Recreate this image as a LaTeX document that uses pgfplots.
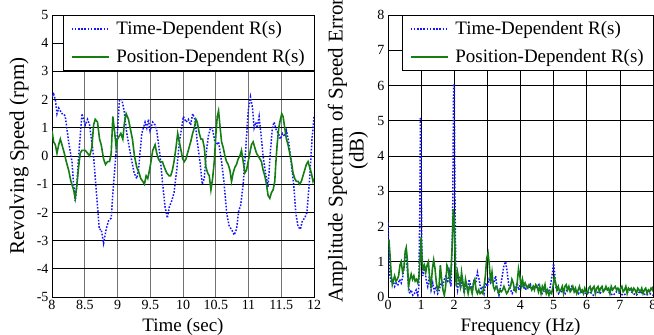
\documentclass[border=0pt]{standalone}
\usepackage{fontspec}
\setmainfont{Liberation Serif}
\usepackage{pgfplots}
\pgfplotsset{compat=1.18}
\definecolor{tdblue}{RGB}{20,20,255}
\definecolor{pdgreen}{RGB}{20,125,20}
\pgfplotsset{
  myax/.style={
    scale only axis, height=282pt,
    grid=major,
    major grid style={black, line width=0.7pt},
    axis line style={black, line width=0.8pt},
    tick style={draw=none},
    tick label style={font=\fontsize{14}{16}\selectfont},
    /pgf/number format/assume math mode=true,
    xlabel style={font=\fontsize{19}{22}\selectfont, at={(axis description cs:0.5,0)}, anchor=base, yshift=-34pt},
    legend cell align=left,
    legend style={at={(rel axis cs:1,1)}, anchor=north east, fill=white, draw=black,
      font=\fontsize{19}{22}\selectfont, row sep=11pt, column sep=6pt, inner xsep=8pt, inner ysep=5.5pt,
      nodes={inner xsep=1pt, inner ysep=1pt}},
    legend image code/.code={\draw (0pt,0pt) -- (37pt,0pt);},
  },
  tdstyle/.style={tdblue, line width=1.5pt, dash pattern=on 1.6pt off 1.6pt},
  pdstyle/.style={pdgreen, line width=1.6pt},
}
\begin{document}
\begin{tikzpicture}
\begin{axis}[myax, width=262pt,
  xmin=8, xmax=12, ymin=-5, ymax=5,
  xtick={8,8.5,...,12}, ytick={-5,-4,...,5},
  xticklabels={8,8.5,9,9.5,10,10.5,11,11.5,12},
  xlabel={Time (sec)},
  ylabel={Revolving Speed (rpm)},
  ylabel style={font=\fontsize{21}{24}\selectfont, at={(axis description cs:-0.126,0.5)}, anchor=center},
  x grid style={black!55, line width=0.8pt},
]
\addplot[tdstyle] table {
8.000 2.1
8.025 2.2
8.051 2.0
8.076 1.5
8.102 1.7
8.152 1.5
8.178 1.5
8.203 1.4
8.254 0.5
8.305 -0.2
8.330 -1.0
8.355 -1.6
8.381 -1.0
8.406 0.0
8.457 1.5
8.508 1.1
8.543 1.3
8.574 1.1
8.635 0.0
8.685 -1.5
8.721 -2.6
8.751 -2.6
8.787 -3.1
8.827 -2.6
8.863 -2.3
8.904 -2.2
8.939 -1.0
8.990 0.5
9.030 2.0
9.066 2.0
9.102 1.6
9.142 0.8
9.203 0.0
9.254 -0.6
9.294 -0.8
9.320 -0.5
9.371 0.8
9.396 1.0
9.421 1.2
9.447 1.0
9.472 1.3
9.497 0.9
9.538 1.2
9.574 1.1
9.599 0.9
9.650 0.0
9.690 -1.0
9.726 -1.8
9.761 -2.2
9.792 -1.8
9.827 -1.6
9.863 -1.3
9.904 -0.5
9.944 0.5
9.980 1.0
10.005 1.4
10.046 1.2
10.081 1.3
10.117 1.1
10.147 1.5
10.183 1.3
10.218 0.5
10.259 -0.2
10.294 -1.0
10.325 -0.8
10.350 0.0
10.386 0.7
10.421 1.0
10.447 1.0
10.487 0.5
10.513 0.4
10.543 0.5
10.589 -0.2
10.629 -1.0
10.665 -2.0
10.706 -2.5
10.741 -2.6
10.782 -2.8
10.817 -2.6
10.853 -1.9
10.878 -1.8
10.919 -1.0
10.959 0.3
10.995 1.6
11.030 2.1
11.061 1.7
11.086 1.0
11.112 1.2
11.132 1.0
11.162 1.4
11.198 0.6
11.223 0.0
11.259 -0.6
11.299 -1.1
11.335 0.2
11.365 1.0
11.391 1.2
11.426 0.9
11.457 0.8
11.487 0.6
11.518 0.8
11.553 0.7
11.579 0.9
11.614 0.5
11.655 -0.3
11.690 -1.0
11.721 -2.0
11.756 -2.5
11.792 -2.6
11.822 -2.3
11.858 -2.2
11.893 -2.0
11.934 -0.8
11.970 0.6
12.000 1.4
};
\addlegendentry{Time-Dependent R(s)}
\addplot[pdstyle] table {
8.000 0.9
8.025 0.5
8.051 0.4
8.076 0.1
8.102 0.4
8.127 0.6
8.152 0.4
8.188 0.1
8.218 -0.2
8.254 -0.5
8.289 -0.9
8.330 -1.2
8.355 -1.5
8.381 -1.0
8.406 -0.4
8.431 0.1
8.457 0.2
8.482 0.2
8.508 0.2
8.543 0.1
8.574 0.0
8.609 0.3
8.635 1.1
8.660 1.3
8.695 1.2
8.726 0.6
8.751 0.4
8.787 -0.1
8.817 -0.3
8.848 -0.2
8.878 -0.2
8.904 0.1
8.929 1.4
8.954 0.9
8.980 0.3
9.000 0.6
9.025 0.7
9.051 0.8
9.081 0.6
9.107 1.2
9.132 1.5
9.168 1.3
9.193 1.0
9.228 0.6
9.259 0.0
9.294 -0.4
9.330 -0.6
9.355 -0.8
9.386 -0.9
9.411 -1.0
9.437 -0.7
9.462 -0.8
9.497 -0.4
9.538 0.2
9.574 0.4
9.599 0.1
9.624 -0.1
9.650 -0.2
9.685 -0.2
9.716 -0.4
9.751 -0.6
9.787 -0.7
9.812 -0.7
9.838 -0.5
9.863 -0.2
9.893 0.3
9.919 0.8
9.944 0.5
9.970 0.2
9.995 -0.1
10.020 -0.2
10.046 -0.1
10.081 0.2
10.117 0.5
10.147 0.8
10.173 1.0
10.198 1.3
10.218 1.2
10.249 0.8
10.274 0.6
10.299 0.6
10.325 0.3
10.350 -0.4
10.376 -0.6
10.401 -0.7
10.426 -1.2
10.452 -0.8
10.477 -0.2
10.503 0.8
10.523 1.4
10.543 1.6
10.563 1.1
10.589 0.5
10.614 0.3
10.640 0.0
10.665 -0.2
10.690 -0.3
10.716 -0.5
10.741 -0.9
10.766 -0.6
10.792 -0.4
10.817 -0.3
10.843 -0.1
10.868 0.0
10.893 0.2
10.919 -0.2
10.944 -0.6
10.970 -0.5
10.995 -0.2
11.020 0.1
11.046 0.4
11.071 0.5
11.096 0.3
11.122 0.1
11.147 0.0
11.173 -0.1
11.198 -0.2
11.223 -0.5
11.249 -0.7
11.274 -1.0
11.299 -1.4
11.325 -1.5
11.350 -1.3
11.376 -1.2
11.401 -0.9
11.416 -0.3
11.437 0.4
11.462 1.0
11.487 1.3
11.508 1.5
11.528 1.4
11.553 1.0
11.579 0.6
11.604 0.4
11.629 0.1
11.655 -0.2
11.680 -0.6
11.706 -0.8
11.731 -0.9
11.756 -0.9
11.782 -1.0
11.807 -0.9
11.832 -0.7
11.858 -0.5
11.883 -0.3
11.909 -0.2
11.934 -0.4
11.959 -0.6
11.985 -0.9
12.000 -0.8
};
\addlegendentry{Position-Dependent R(s)}
\end{axis}

\begin{axis}[myax, width=265pt, at={(336pt,0pt)}, anchor=south west,
  xmin=0, xmax=8, ymin=0, ymax=8,
  xtick={0,1,...,8}, ytick={0,1,...,8},
  xlabel={Frequency (Hz)},
  ylabel={Amplitude Spectrum of Speed Error\\(dB)},
  ylabel style={font=\fontsize{21}{21}\selectfont, align=center, at={(axis description cs:-0.151,0.52)}, anchor=center},
]
\addplot[tdstyle] table {
0.00 2.1
0.03 1.2
0.06 0.6
0.10 0.4
0.15 0.5
0.20 0.3
0.25 0.4
0.30 0.35
0.35 0.5
0.40 0.4
0.45 0.6
0.50 1.0
0.55 1.3
0.58 0.8
0.62 0.3
0.66 0.1
0.70 0.2
0.75 0.05
0.80 0.1
0.85 0.2
0.90 0.05
0.93 0.3
0.96 2.5
0.98 5.1
1.00 4.0
1.02 1.5
1.05 0.6
1.10 0.9
1.15 0.5
1.20 0.3
1.25 0.6
1.30 0.2
1.35 0.4
1.40 0.15
1.45 0.3
1.50 0.1
1.55 0.2
1.60 0.4
1.65 0.3
1.70 0.5
1.75 0.6
1.80 0.4
1.85 0.7
1.90 0.3
1.95 2.0
1.98 6.0
2.00 6.05
2.02 3.0
2.05 0.5
2.10 0.2
2.15 0.6
2.20 0.3
2.25 0.5
2.30 0.1
2.35 0.4
2.40 0.2
2.45 0.5
2.50 0.3
2.55 0.2
2.60 0.5
2.65 0.4
2.70 0.7
2.75 0.5
2.80 0.2
2.85 0.3
2.90 0.1
2.95 0.4
3.00 0.3
3.05 0.5
3.10 0.4
3.15 0.5
3.20 0.4
3.25 0.6
3.30 0.2
3.35 0.05
3.40 0.3
3.45 0.6
3.50 0.9
3.55 1.0
3.60 0.7
3.65 0.3
3.70 0.2
3.75 0.1
3.80 0.2
3.85 0.3
3.90 0.4
3.95 0.2
4.00 0.4
4.05 0.3
4.10 0.35
4.15 0.2
4.20 0.3
4.25 0.25
4.30 0.35
4.35 0.2
4.40 0.3
4.45 0.25
4.50 0.3
4.55 0.35
4.60 0.2
4.65 0.1
4.70 0.2
4.75 0.15
4.80 0.2
4.85 0.1
4.90 0.3
4.95 0.6
5.00 0.95
5.03 0.7
5.06 0.3
5.10 0.2
5.15 0.1
5.20 0.2
5.25 0.15
5.30 0.2
5.35 0.1
5.40 0.2
5.45 0.25
5.50 0.2
5.55 0.3
5.60 0.25
5.65 0.15
5.70 0.2
5.75 0.1
5.80 0.15
5.85 0.1
5.90 0.2
5.95 0.1
6.00 0.1
6.10 0.15
6.20 0.05
6.30 0.15
6.40 0.1
6.50 0.2
6.60 0.25
6.70 0.1
6.80 0.05
6.90 0.15
7.00 0.1
7.10 0.05
7.20 0.1
7.30 0.2
7.40 0.1
7.50 0.05
7.60 0.15
7.70 0.1
7.80 0.05
7.90 0.1
8.00 0.05
};
\addlegendentry{Time-Dependent R(s)}
\addplot[pdstyle] table {
0.00 1.6
0.03 1.6
0.06 1.2
0.10 0.6
0.13 0.35
0.17 0.5
0.20 0.6
0.24 0.45
0.28 0.5
0.32 0.6
0.36 0.9
0.40 1.0
0.44 0.7
0.48 0.8
0.52 1.3
0.55 1.4
0.58 1.1
0.62 0.3
0.66 0.5
0.70 0.65
0.74 0.5
0.78 0.6
0.82 0.45
0.86 0.5
0.90 0.4
0.94 0.6
0.98 1.3
1.00 1.7
1.03 1.0
1.06 0.8
1.10 0.9
1.14 0.7
1.18 0.9
1.22 1.0
1.26 0.5
1.30 0.3
1.34 0.8
1.38 1.05
1.42 0.8
1.46 0.4
1.50 0.2
1.54 0.3
1.58 0.9
1.62 0.5
1.66 0.2
1.70 0.05
1.74 0.3
1.78 0.9
1.82 0.8
1.86 0.5
1.90 0.7
1.94 1.5
1.97 2.5
2.00 2.2
2.03 1.0
2.06 0.3
2.10 0.7
2.14 0.5
2.18 0.3
2.22 0.7
2.26 0.4
2.30 0.15
2.34 0.5
2.38 0.3
2.42 0.1
2.46 0.3
2.50 0.25
2.54 0.1
2.58 0.4
2.62 0.5
2.66 0.2
2.70 0.1
2.74 0.2
2.78 0.1
2.82 0.15
2.86 0.1
2.90 0.3
2.94 0.6
2.98 1.1
3.02 1.25
3.06 0.9
3.10 0.4
3.14 0.7
3.18 0.3
3.22 0.2
3.26 0.3
3.30 0.25
3.34 0.1
3.38 0.2
3.42 0.15
3.46 0.2
3.50 0.3
3.54 0.2
3.58 0.1
3.62 0.15
3.66 0.25
3.70 0.3
3.74 0.5
3.78 0.4
3.82 0.2
3.86 0.15
3.90 0.4
3.94 0.8
3.98 0.6
4.02 0.3
4.06 0.5
4.10 0.3
4.14 0.4
4.18 0.3
4.22 0.25
4.26 0.35
4.30 0.3
4.34 0.2
4.38 0.3
4.42 0.2
4.46 0.35
4.50 0.3
4.54 0.15
4.58 0.3
4.62 0.1
4.66 0.3
4.70 0.2
4.74 0.35
4.78 0.1
4.82 0.2
4.86 0.05
4.90 0.15
4.94 0.1
4.98 0.3
5.02 0.55
5.06 0.4
5.10 0.2
5.14 0.3
5.18 0.15
5.22 0.2
5.26 0.3
5.30 0.1
5.34 0.3
5.38 0.35
5.42 0.2
5.46 0.3
5.50 0.15
5.54 0.2
5.58 0.3
5.62 0.15
5.66 0.25
5.70 0.1
5.74 0.2
5.78 0.3
5.82 0.15
5.86 0.2
5.90 0.1
5.94 0.25
5.98 0.15
6.02 0.1
6.06 0.25
6.10 0.3
6.14 0.15
6.18 0.25
6.22 0.3
6.26 0.1
6.30 0.25
6.34 0.3
6.38 0.15
6.42 0.25
6.46 0.3
6.50 0.15
6.54 0.2
6.58 0.3
6.62 0.2
6.66 0.25
6.70 0.1
6.74 0.3
6.78 0.2
6.82 0.25
6.86 0.3
6.90 0.2
6.94 0.25
6.98 0.15
7.02 0.25
7.06 0.3
7.10 0.15
7.14 0.2
7.18 0.3
7.22 0.1
7.26 0.25
7.30 0.2
7.34 0.25
7.38 0.15
7.42 0.25
7.46 0.2
7.50 0.1
7.54 0.25
7.58 0.2
7.62 0.15
7.66 0.25
7.70 0.1
7.74 0.2
7.78 0.25
7.82 0.1
7.86 0.2
7.90 0.15
7.94 0.25
7.98 0.2
8.00 0.3
};
\addlegendentry{Position-Dependent R(s)}
\end{axis}
\pgfresetboundingbox
\path (-52pt,-38pt) rectangle (602pt,297pt);
\end{tikzpicture}
\end{document}
